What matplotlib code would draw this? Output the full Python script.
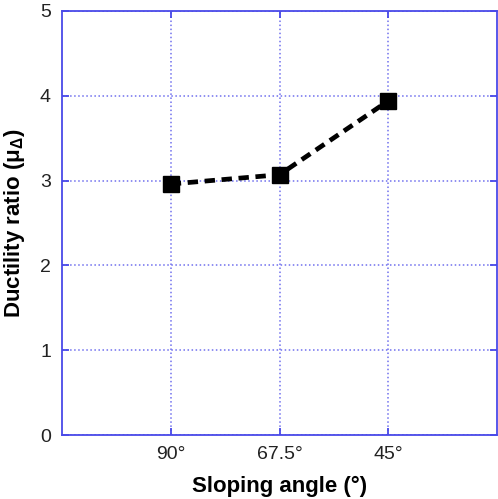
import matplotlib
matplotlib.use('Agg')
import matplotlib.pyplot as plt

# ductility ratio per sloping angle
angles = ['90°', '67.5°', '45°']
ductility = [2.96, 3.07, 3.94]

plt.rcParams['font.family'] = ['Liberation Sans', 'DejaVu Sans']
plt.rcParams['mathtext.fontset'] = 'custom'
plt.rcParams['mathtext.rm'] = 'Liberation Sans'
plt.rcParams['mathtext.bf'] = 'Liberation Sans:bold'
plt.rcParams['mathtext.it'] = 'Liberation Sans:italic'

axis_blue = '#4a4ae8'
grid_blue = '#7070ee'

fig = plt.figure(figsize=(4.98, 4.99), dpi=100)
ax = fig.add_axes([0.1245, 0.128, 0.8735, 0.85])

x = list(range(1, len(angles) + 1))
ax.plot(x, ductility, color='black', linestyle='--', linewidth=3.4,
        dashes=(2.2, 1.4), marker='s', markersize=12, zorder=3)

ax.set_xlim(0, 4)
ax.set_ylim(0, 5)
ax.set_xticks(x)
ax.set_xticklabels(angles)
ax.set_yticks(range(0, 6))

ax.grid(True, color=grid_blue, linestyle=':', linewidth=1.1)
for s in ax.spines.values():
    s.set_color(axis_blue)
    s.set_linewidth(1.3)
ax.tick_params(direction='in', length=5, width=1.3, color=axis_blue,
               top=True, right=True, labelsize=14, labelcolor='#222222', pad=8)

ax.set_xlabel('Sloping angle (°)', fontsize=16, fontweight='bold', labelpad=9)
ax.set_ylabel(r'Ductility ratio ($\mathbf{\mu_\Delta}$)', fontsize=16,
              fontweight='bold', labelpad=9)

fig.savefig('out.png', dpi=100)
